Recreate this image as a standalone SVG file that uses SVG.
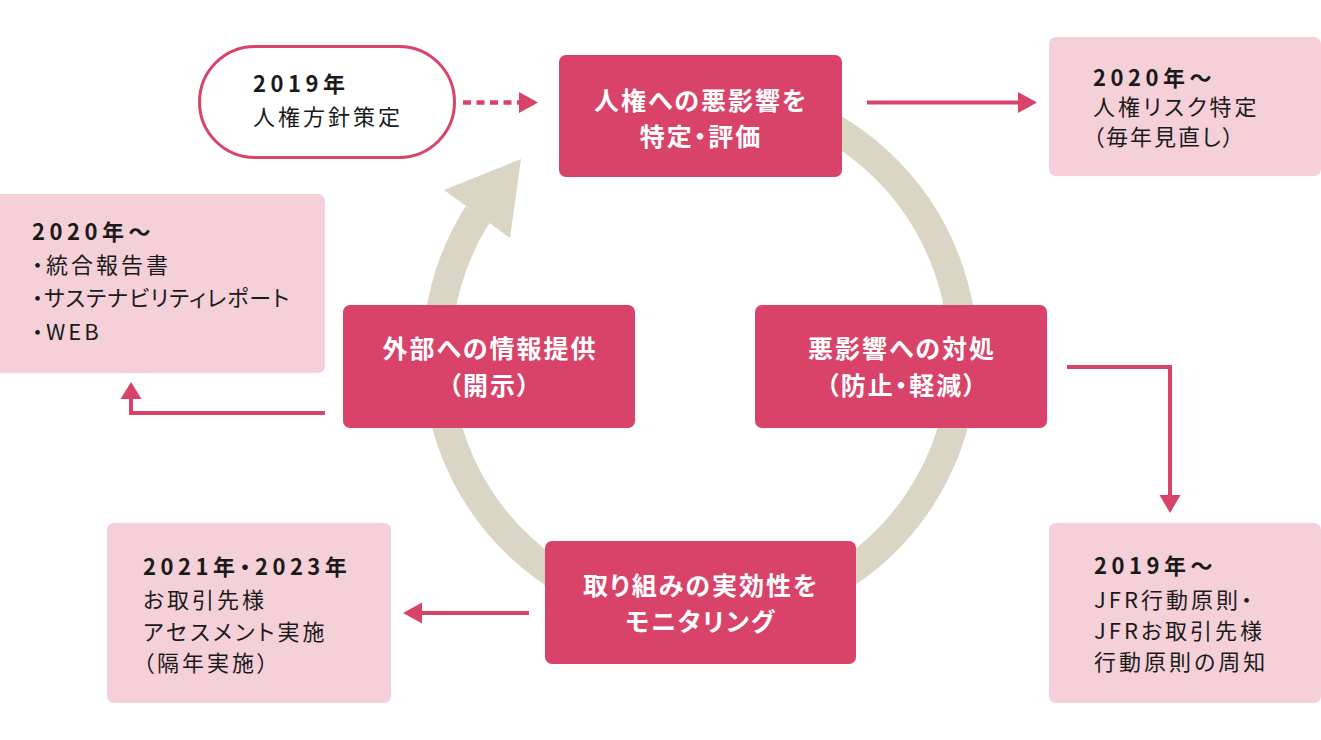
<svg xmlns="http://www.w3.org/2000/svg" width="1321" height="740" viewBox="0 0 1321 740">
<defs>
<style>
.dark{fill:#d9436a}
.light{fill:#f5d0d9}
.pill{fill:#fff;stroke:#d9436a;stroke-width:3}
.wt{font-family:"Noto Sans CJK JP","Noto Sans",sans-serif;font-size:25px;font-weight:700;fill:#fff;text-anchor:middle;letter-spacing:2px;font-feature-settings:"palt"}
.bt{font-family:"Noto Sans CJK JP","Noto Sans",sans-serif;font-size:22px;fill:#1a1a1a;letter-spacing:3px;font-feature-settings:"palt"}
.yr{font-weight:700;letter-spacing:4.5px}
.kana{letter-spacing:1px}
.conn{stroke:#d9436a;stroke-width:4;fill:none}
.dash{stroke:#d9436a;stroke-width:4.5;fill:none;stroke-dasharray:8 5.5}
.head{fill:#d9436a}
.ring{stroke:#dad5c4;stroke-width:29;fill:none}
</style>
</defs>
<rect width="1321" height="740" fill="#fff"/>

<g id="connectors">
  <g id="cycle">
    <path class="ring" d="M 654.3 96 A 263 263 0 1 1 477.9 214.1"/>
    <polygon fill="#dad5c4" points="444,190 521,159 510,238"/>
  </g>
  <g id="c-policy">
    <line class="dash" x1="463" y1="102.5" x2="520" y2="102.5"/>
    <polygon class="head" points="519,92 538,102.5 519,113"/>
  </g>
  <g id="c-risk">
    <line class="conn" x1="867" y1="102.5" x2="1020" y2="102.5"/>
    <polygon class="head" points="1018,92 1037,102.5 1018,113"/>
  </g>
  <g id="c-address">
    <polyline class="conn" points="1067,367 1170,367 1170,497"/>
    <polygon class="head" points="1159.5,495 1180.5,495 1170,513"/>
  </g>
  <g id="c-monitor">
    <line class="conn" x1="529" y1="613" x2="420" y2="613"/>
    <polygon class="head" points="422,602.5 422,623.5 403,613"/>
  </g>
  <g id="c-disclose">
    <polyline class="conn" points="325,413 131,413 131,397"/>
    <polygon class="head" points="120.5,399 141.5,399 131,382"/>
  </g>
</g>

<g id="node-identify">
  <rect class="dark" x="559" y="55" width="283" height="122" rx="7"/>
  <text class="wt" x="701" y="110">人権への悪影響を</text>
  <text class="wt" x="701" y="146">特定・評価</text>
</g>
<g id="node-address">
  <rect class="dark" x="755" y="305" width="292" height="123" rx="7"/>
  <text class="wt" x="902" y="358">悪影響への対処</text>
  <text class="wt" x="902" y="395">（防止・軽減）</text>
</g>
<g id="node-monitor">
  <rect class="dark" x="545" y="541" width="311" height="123" rx="7"/>
  <text class="wt" x="701" y="595">取り組みの実効性を</text>
  <text class="wt" x="701" y="631">モニタリング</text>
</g>
<g id="node-disclose">
  <rect class="dark" x="343" y="305" width="292" height="123" rx="7"/>
  <text class="wt" x="490" y="358">外部への情報提供</text>
  <text class="wt" x="490" y="395">（開示）</text>
</g>

<g id="node-policy">
  <rect class="pill" x="199.5" y="46.5" width="255" height="111" rx="55.5"/>
  <text class="bt yr" x="253" y="92">2019年</text>
  <text class="bt" x="253" y="125">人権方針策定</text>
</g>
<g id="node-risk">
  <rect class="light" x="1049" y="37" width="272" height="139" rx="7"/>
  <text class="bt yr" x="1093" y="86">2020年～</text>
  <text class="bt" x="1093" y="115">人権リスク特定</text>
  <text class="bt" x="1093" y="145" style="letter-spacing:2px">（毎年見直し）</text>
</g>
<g id="node-report">
  <rect class="light" x="-8" y="194" width="333" height="179" rx="7"/>
  <text class="bt yr" x="32" y="240">2020年～</text>
  <text class="bt" x="32" y="273">・統合報告書</text>
  <text class="bt kana" x="32" y="306">・サステナビリティレポート</text>
  <text class="bt" x="32" y="340">・WEB</text>
</g>
<g id="node-principles">
  <rect class="light" x="1049" y="523" width="272" height="180" rx="7"/>
  <text class="bt yr" x="1094" y="574">2019年～</text>
  <text class="bt" x="1094" y="608">JFR行動原則・</text>
  <text class="bt" x="1094" y="639">JFRお取引先様</text>
  <text class="bt" x="1094" y="670">行動原則の周知</text>
</g>
<g id="node-assessment">
  <rect class="light" x="107" y="523" width="284" height="180" rx="7"/>
  <text class="bt yr" x="143" y="575">2021年・2023年</text>
  <text class="bt" x="143" y="608">お取引先様</text>
  <text class="bt" x="143" y="640">アセスメント実施</text>
  <text class="bt" x="143" y="671">（隔年実施）</text>
</g>
</svg>
